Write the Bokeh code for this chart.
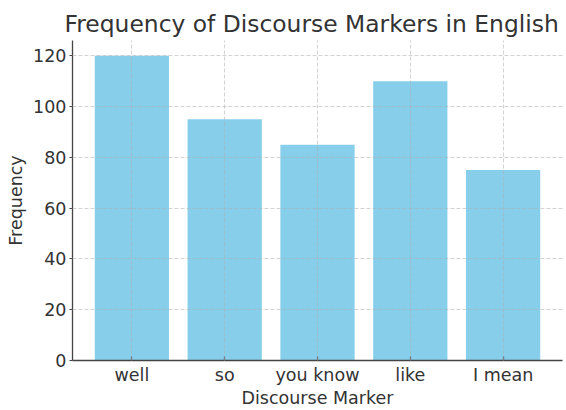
from bokeh.plotting import figure
from bokeh.models import Range1d, FactorRange
from bokeh.embed import file_html
from bokeh.resources import INLINE

markers = ["well", "so", "you know", "like", "I mean"]
frequency = [120, 95, 85, 110, 75]

FONT = "DejaVu Sans"
TXT = "#333333"

p = figure(
    x_range=FactorRange(*markers, range_padding=0.14, range_padding_units="absolute"),
    y_range=Range1d(0, 126),
    width=564, height=410,
    output_backend="svg", toolbar_location=None,
    title="Frequency of Discourse Markers in English",
    min_border_left=72, min_border_right=2, min_border_top=40, min_border_bottom=46,
)

p.vbar(x=markers, top=frequency, width=0.8, color="#87CEEB", line_color=None)

p.title.text_font = FONT
p.title.text_font_size = "23.4px"
p.title.text_font_style = "normal"
p.title.text_color = TXT
p.title.align = "left"
p.title.offset = -8
p.title.standoff = 5

p.outline_line_color = None
p.background_fill_color = "white"

for ax in (p.xaxis[0], p.yaxis[0]):
    ax.axis_line_color = "#444444"
    ax.axis_line_width = 1.3
    ax.major_tick_line_color = "#444444"
    ax.major_tick_line_width = 1.2
    ax.minor_tick_line_color = None
    ax.major_label_text_font = FONT
    ax.major_label_text_font_size = "17.5px"
    ax.major_label_text_color = TXT
    ax.axis_label_text_font = FONT
    ax.axis_label_text_font_size = "17.5px"
    ax.axis_label_text_font_style = "normal"
    ax.axis_label_text_color = TXT

p.xaxis.axis_label = "Discourse Marker"
p.yaxis.axis_label = "Frequency"
p.xaxis.major_tick_in = 4
p.xaxis.major_tick_out = 0
p.xaxis.major_label_standoff = 4
p.xaxis.axis_label_standoff = 0
p.yaxis.major_tick_in = 0
p.yaxis.major_tick_out = 3
p.yaxis.major_label_standoff = 3
p.yaxis.axis_label_standoff = 4
p.yaxis.ticker = [0, 20, 40, 60, 80, 100, 120]

for g in (p.xgrid[0], p.ygrid[0]):
    g.grid_line_color = "#b0b0b0"
    g.grid_line_alpha = 0.7
    g.grid_line_dash = "4 2"
    g.grid_line_width = 0.8
    g.level = "overlay"

open("out.html", "w").write(file_html(p, INLINE))
